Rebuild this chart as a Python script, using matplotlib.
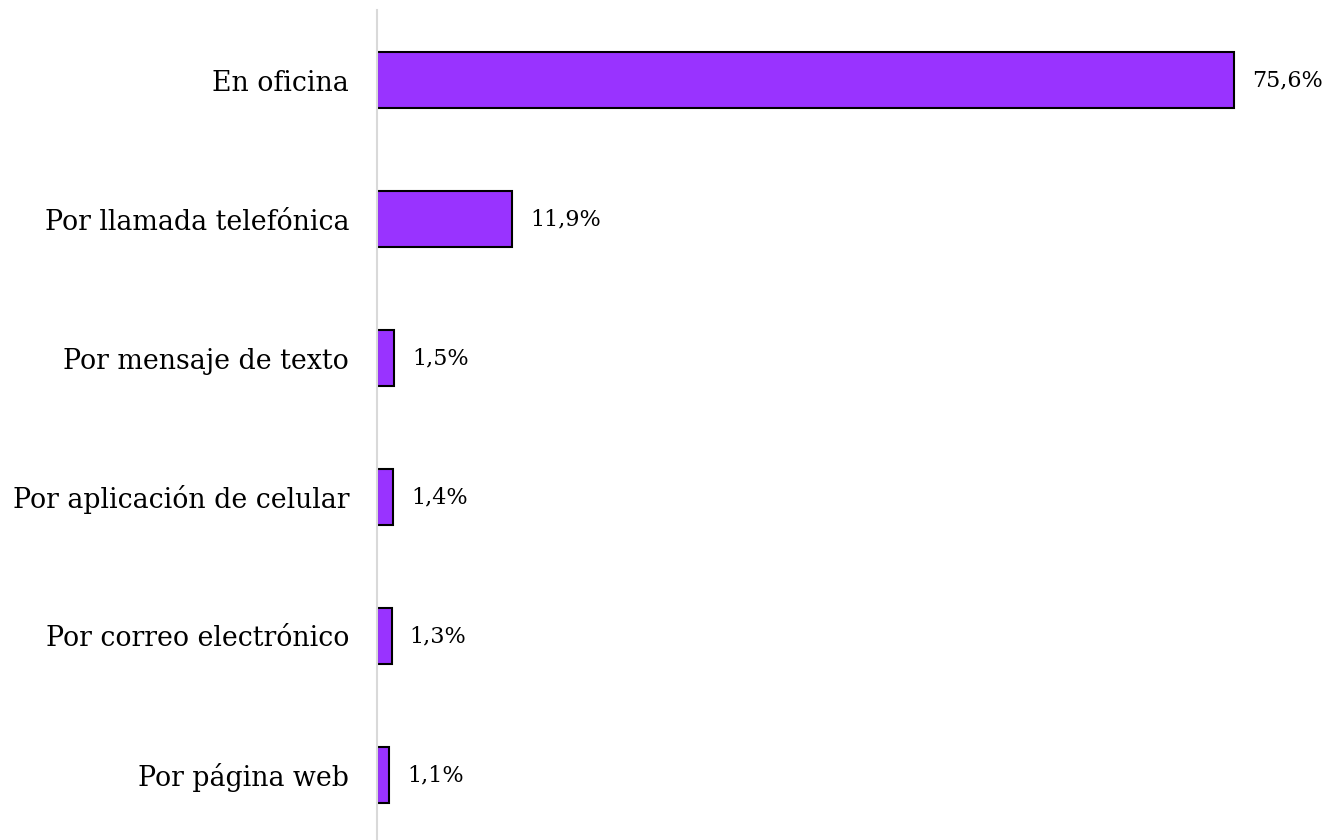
import numpy as np
import matplotlib.pyplot as plt

# Canales de atención y su porcentaje
canales = ['En oficina', 'Por llamada telefónica', 'Por mensaje de texto',
           'Por aplicación de celular', 'Por correo electrónico', 'Por página web']
porcentajes = [75.6, 11.9, 1.5, 1.4, 1.3, 1.1]
etiquetas = ['75,6%', '11,9%', '1,5%', '1,4%', '1,3%', '1,1%']

plt.rcParams['font.family'] = ['DejaVu Serif']

fig = plt.figure(figsize=(13.28, 8.4), dpi=100)
ax = fig.add_axes([377 / 1328, 0, 951 / 1328, 830 / 840])

y = np.arange(len(canales))
ax.barh(y, porcentajes, height=0.40, color='#9933ff', edgecolor='black', linewidth=1.5)

# etiqueta de valor a la derecha de cada barra
for yi, v, t in zip(y, porcentajes, etiquetas):
    ax.annotate(t, (v, yi), xytext=(13, 0), textcoords='offset points',
                va='center', ha='left', fontsize=16)

ax.set_xlim(0, 83.9)
ax.set_ylim(5.468, -0.504)
ax.set_yticks(y)
ax.set_yticklabels(canales, fontsize=19.3)
ax.tick_params(axis='y', length=0, pad=20)
ax.set_xticks([])

for s in ['top', 'right', 'bottom']:
    ax.spines[s].set_visible(False)
ax.spines['left'].set_color('#d9d9d9')
ax.spines['left'].set_linewidth(1.5)

plt.savefig('out.png', dpi=100)
